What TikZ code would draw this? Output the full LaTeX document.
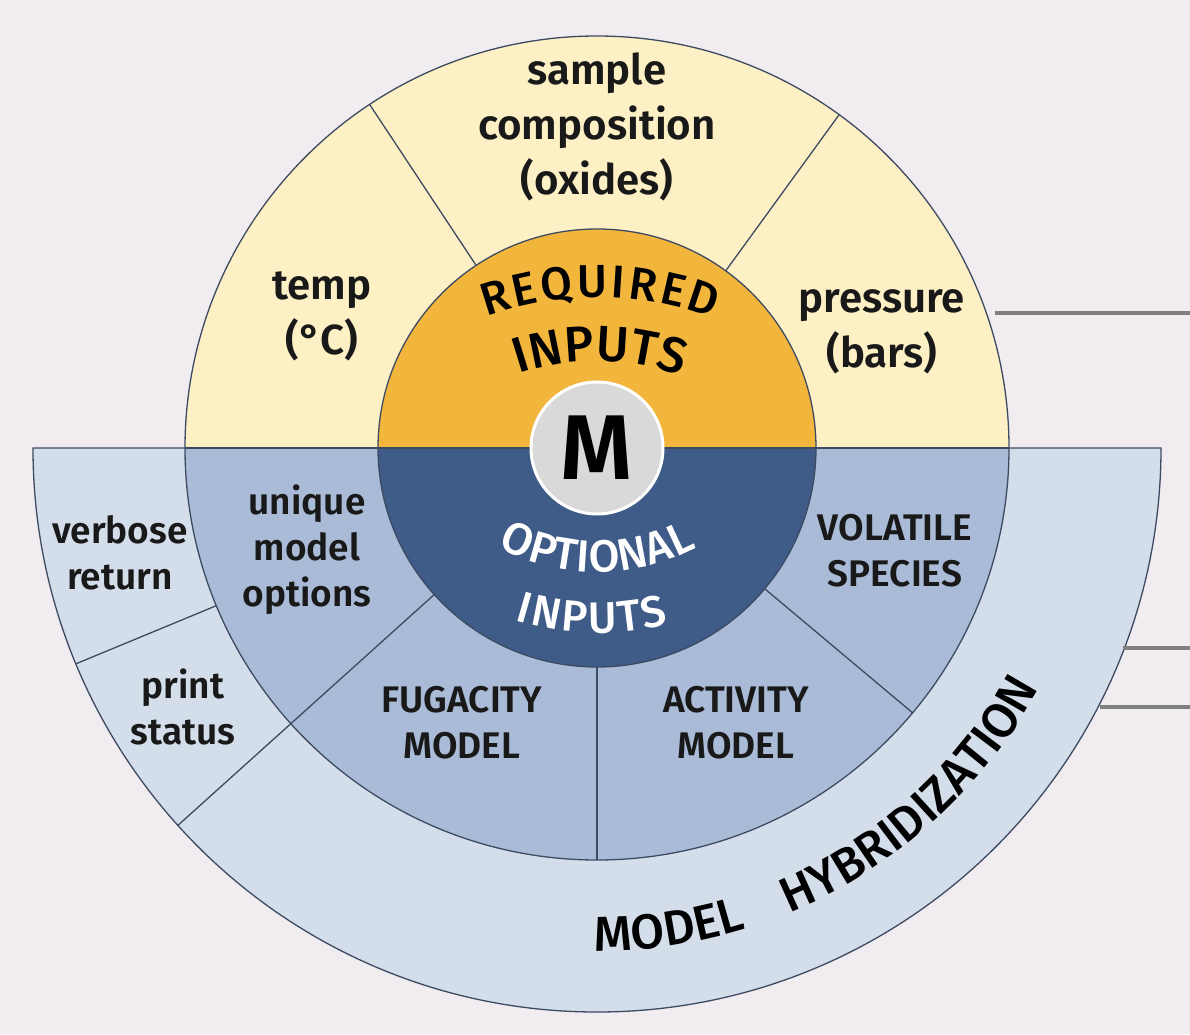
\documentclass[tikz,border=0pt]{standalone}
\usepackage{fontspec}
\setmainfont{Fira Sans}[BoldFont={Fira Sans SemiBold}]
\newfontfamily\arcfont{Fira Sans Medium}
\usepackage{xcolor}
\usetikzlibrary{positioning, decorations.text}

\definecolor{bgcol}{HTML}{F0ECF0}
\definecolor{reqlight}{HTML}{FDF0C5}
\definecolor{reqcore}{HTML}{F2B63C}
\definecolor{optcore}{HTML}{3F5B88}
\definecolor{optmid}{HTML}{A9BBD7}
\definecolor{optouter}{HTML}{D4DEEA}
\definecolor{edgecol}{HTML}{3C4A62}
\definecolor{linkcol}{HTML}{7F7F7F}
\definecolor{hubcol}{HTML}{D9D9D9}

\begin{document}
\begin{tikzpicture}[
    x=1pt, y=1pt,
    edge/.style={draw=edgecol, line width=1.3pt},
    link/.style={draw=linkcol, line width=3.5pt},
    toplabel/.style={font=\bfseries\fontsize{42}{55}\selectfont, align=center, text=black!90},
    lowlabel/.style={font=\bfseries\fontsize{37}{46}\selectfont, align=center, text=black!90},
    hub/.style={circle, fill=hubcol, draw=white, line width=3pt, minimum size=132pt, inner sep=0pt, font=\bfseries\fontsize{92}{92}\selectfont}
]
    \useasboundingbox (-597,-586) rectangle (593,448);
    \fill[bgcol] (-597,-586) rectangle (593,448);

    % rings
    \fill[optouter] (-564,0) arc[start angle=180, end angle=360, radius=564pt] -- cycle;
    \draw[edge] (-564,0) -- (564,0) arc[start angle=0, end angle=-180, radius=564pt] -- cycle;
    \fill[reqlight] (-412,0) arc[start angle=180, end angle=0, radius=412pt] -- cycle;
    \fill[optmid] (-412,0) arc[start angle=180, end angle=360, radius=412pt] -- cycle;
    \fill[reqcore] (-219,0) arc[start angle=180, end angle=0, radius=219pt] -- cycle;
    \fill[optcore] (-219,0) arc[start angle=180, end angle=360, radius=219pt] -- cycle;
    \draw[edge] (0,0) circle[radius=412pt];
    \draw[edge] (0,0) circle[radius=219pt];
    \draw[edge] (-412,0) -- (412,0);

    % sector borders
    \foreach \a in {54, 123.5, 270, 320}
        \draw[edge] (\a:219) -- (\a:412);
    \draw[edge] (222:219) -- (222:564);
    \draw[edge] (202.5:412) -- (202.5:564);

    % curved titles
    \path[decorate, decoration={text along path, text align=fit to path,
        text={|\arcfont\fontsize{46}{46}\selectfont|REQUIRED}}]
        (0,-173) ++(110:324) arc[start angle=110, end angle=69, radius=324pt];
    \path[decorate, decoration={text along path, text align=fit to path,
        text={|\arcfont\fontsize{50}{50}\selectfont|INPUTS}}]
        (0,-153) ++(109:240) arc[start angle=109, end angle=71, radius=240pt];
    \path[decorate, decoration={text along path, text align=fit to path, text color=white,
        text={|\arcfont\fontsize{45}{45}\selectfont|OPTIONAL}}]
        (0,88) ++(242:212) arc[start angle=242, end angle=298, radius=212pt];
    \path[decorate, decoration={text along path, text align=fit to path, text color=white,
        text={|\arcfont\fontsize{44}{44}\selectfont|INPUTS}}]
        (0,90) ++(252.6:275) arc[start angle=252.6, end angle=285, radius=275pt];
    \path[decorate, decoration={text along path, text align=center,
        text={|\arcfont\fontsize{49}{49}\selectfont|MODEL}}]
        (265:503) arc[start angle=265, end angle=292, radius=503pt];
    \path[decorate, decoration={text along path, text align=center,
        text={|\arcfont\fontsize{49}{49}\selectfont|HYBRIDIZATION}}]
        (290:503) arc[start angle=290, end angle=334, radius=503pt];

    % labels
    \node [hub] (core) at (0,0) {M};
    \node [toplabel] (comp) at (0,321) {sample\\composition\\(oxides)};
    \node [toplabel] (temp) at (-275,132) {temp\\(°C)};
    \node [toplabel] (press) at (285,116) {pressure\\(bars)};
    \node [lowlabel] (unique) at (-290,-102) {unique\\model\\options};
    \node [lowlabel] (verbose) at (-477,-105) {verbose\\return};
    \node [lowlabel] (print) at (-414,-259) {print\\status};
    \node [lowlabel] (fug) at (-135,-275) {FUGACITY\\MODEL};
    \node [lowlabel] (act) at (139,-275) {ACTIVITY\\MODEL};
    \node [lowlabel] (vol) at (298,-103) {VOLATILE\\SPECIES};

    % outgoing links
    \coordinate (p1) at (398,135);
    \coordinate (q1) at (593,135);
    \coordinate (p2) at (526,-200);
    \coordinate (q2) at (593,-200);
    \coordinate (p3) at (503,-259);
    \coordinate (q3) at (593,-259);
    \draw[link] (p1) -- (q1);
    \draw[link] (p2) -- (q2);
    \draw[link] (p3) -- (q3);
\end{tikzpicture}
\end{document}
